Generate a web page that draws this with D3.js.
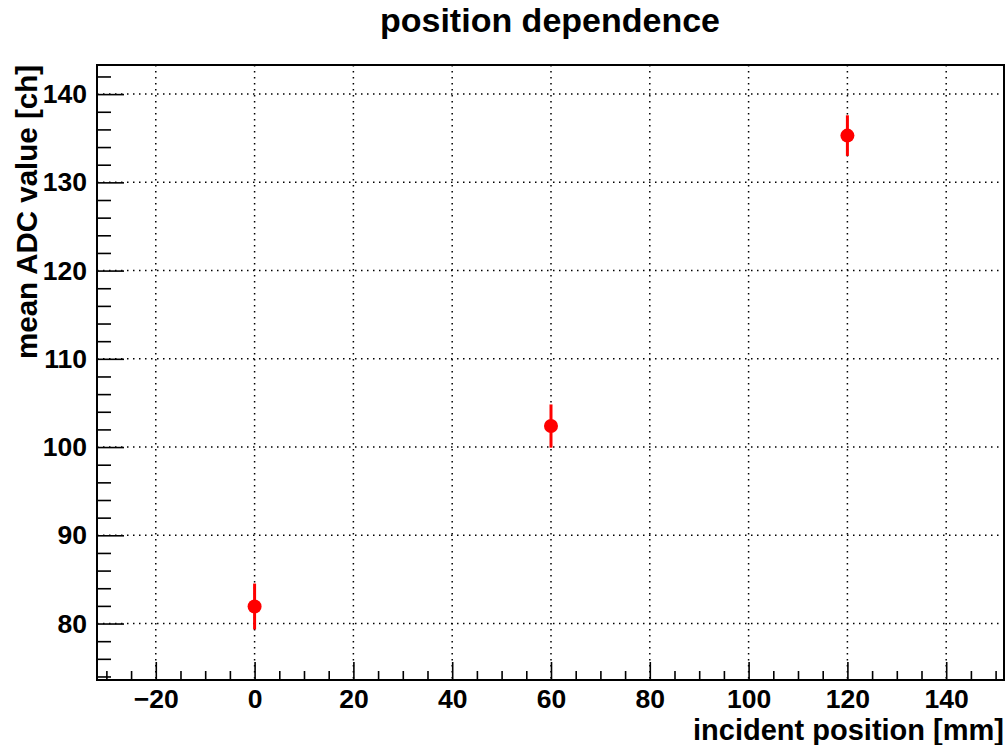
<!DOCTYPE html>
<html><head><meta charset="utf-8">
<script src="https://cdn.jsdelivr.net/npm/d3@7"></script>
<style>
html,body{margin:0;padding:0;background:#fff;}
text{font-family:"Liberation Sans",Arial,Helvetica,sans-serif;font-weight:bold;fill:#000;}
</style></head>
<body><svg id="c" width="1007" height="745"></svg>
<script>
// ---- data ----
const xPositions = [0, 60, 120];
const meanADC = [81.93, 102.38, 135.3];
const meanErr = [2.6, 2.45, 2.3];
const xMajorTicks = [-20, 0, 20, 40, 60, 80, 100, 120, 140];
const yMajorTicks = [80, 90, 100, 110, 120, 130, 140];
const xDomain = [-31.9, 151.7];
const yDomain = [73.6, 143.3];
const titleText = "position dependence";
const xTitle = "incident position [mm]";
const yTitle = "mean ADC value [ch]";

const W = 1007, H = 745;
const m = {l: 97, r: 3, t: 65, b: 65};
const svg = d3.select("#c");
const x = d3.scaleLinear().domain(xDomain).range([m.l, W - m.r]);
const y = d3.scaleLinear().domain(yDomain).range([H - m.b, m.t]);
const pw = W - m.r - m.l, ph = H - m.b - m.t;

const fmt = v => (v < 0 ? "\u2212" + Math.abs(v) : String(v));

// grid
const grid = svg.append("g");
grid.selectAll("line.v").data(xMajorTicks).join("line")
  .attr("x1", d => x(d)).attr("x2", d => x(d))
  .attr("y1", m.t).attr("y2", H - m.b)
  .attr("stroke", "#000").attr("stroke-width", 1.5).attr("stroke-dasharray", "1.5,4.5");
grid.selectAll("line.h").data(yMajorTicks).join("line")
  .attr("y1", d => y(d)).attr("y2", d => y(d))
  .attr("x1", m.l).attr("x2", W - m.r)
  .attr("stroke", "#000").attr("stroke-width", 1.5).attr("stroke-dasharray", "1.5,4.5");

// minor ticks
const xMinor = d3.range(-30, 151, 5).filter(v => v % 20 !== 0);
const yMinor = d3.range(74, 143, 2).filter(v => v % 10 !== 0);

const gxMinor = svg.append("g").attr("transform", `translate(0,${H - m.b})`)
  .call(d3.axisBottom(x).tickValues(xMinor).tickSizeInner(-9).tickSizeOuter(0).tickFormat(""));
const gyMinor = svg.append("g").attr("transform", `translate(${m.l},0)`)
  .call(d3.axisLeft(y).tickValues(yMinor).tickSizeInner(-14).tickSizeOuter(0).tickFormat(""));

const gx = svg.append("g").attr("transform", `translate(0,${H - m.b})`)
  .call(d3.axisBottom(x).tickValues(xMajorTicks).tickSizeInner(-18).tickSizeOuter(0)
    .tickPadding(9).tickFormat(fmt));
const gy = svg.append("g").attr("transform", `translate(${m.l},0)`)
  .call(d3.axisLeft(y).tickValues(yMajorTicks).tickSizeInner(-27).tickSizeOuter(0)
    .tickPadding(10).tickFormat(fmt));

[gx, gy, gxMinor, gyMinor].forEach(g => {
  g.selectAll("line").attr("stroke", "#000").attr("stroke-width", 1.6);
  g.select(".domain").remove();
  g.selectAll("text").attr("font-size", 26.5).attr("font-family", null);
});
gx.selectAll("text").attr("dy", "0.72em");

// frame
svg.append("rect").attr("x", m.l).attr("y", m.t).attr("width", pw).attr("height", ph)
  .attr("fill", "none").attr("stroke", "#000").attr("stroke-width", 2);

// data
const pts = xPositions.map((d, i) => ({x: d, y: meanADC[i], e: meanErr[i]}));
const pg = svg.append("g");
pg.selectAll("line").data(pts).join("line")
  .attr("x1", d => x(d.x)).attr("x2", d => x(d.x))
  .attr("y1", d => y(d.y + d.e)).attr("y2", d => y(d.y - d.e))
  .attr("stroke", "#ff0000").attr("stroke-width", 3);
pg.selectAll("circle").data(pts).join("circle")
  .attr("cx", d => x(d.x)).attr("cy", d => y(d.y)).attr("r", 7)
  .attr("fill", "#ff0000");

// titles
svg.append("text").attr("x", 550).attr("y", 32).attr("text-anchor", "middle")
  .attr("font-size", 34).text(titleText);
svg.append("text").attr("x", W - m.r).attr("y", 740).attr("text-anchor", "end")
  .attr("font-size", 29).text(xTitle);
svg.append("text").attr("transform", `translate(37,${m.t}) rotate(-90)`)
  .attr("text-anchor", "end").attr("font-size", 29.5).text(yTitle);
</script></body></html>
